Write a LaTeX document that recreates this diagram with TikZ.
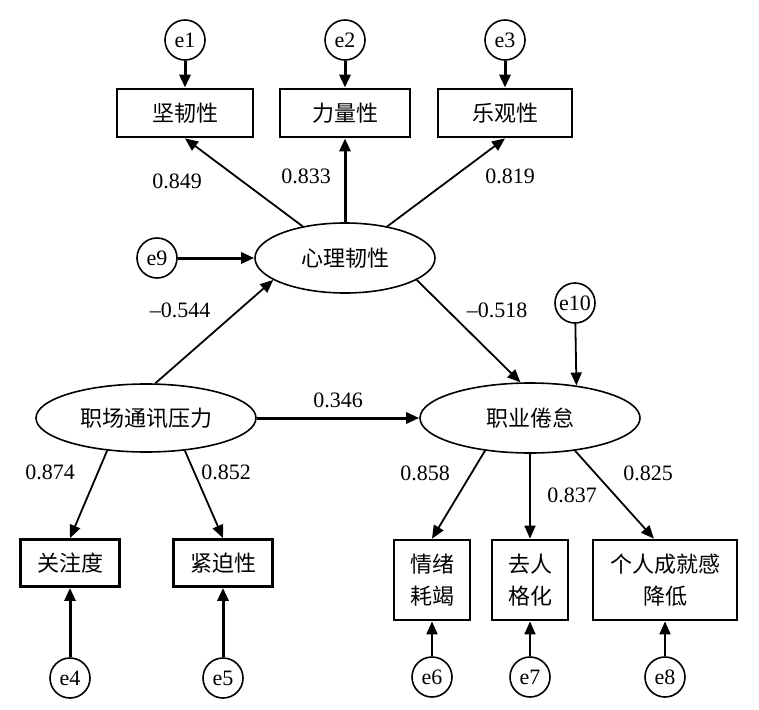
\documentclass[tikz,border=0pt]{standalone}
\usepackage{fontspec}
\setmainfont{Liberation Serif}
\newfontfamily\cjk{Noto Sans CJK SC}
\usetikzlibrary{arrows.meta,shapes.geometric}

\begin{document}
\begin{tikzpicture}[x=1pt, y=-1pt,
        font=\fontsize{22}{30}\selectfont,
        err/.style={circle, draw, line width=1.6pt, minimum size=40pt, inner sep=0pt},
        obs/.style={rectangle, draw, line width=2.8pt, minimum height=48pt, inner sep=0pt,
            align=center, font=\fontsize{22}{32}\selectfont\cjk},
        lat/.style={ellipse, draw, line width=1.6pt, inner sep=0pt, font=\fontsize{22}{30}\selectfont\cjk},
        thinarr/.style={-{Triangle[length=13pt,width=11pt]}, line width=1.8pt},
        thickarr/.style={-{Triangle[length=13pt,width=11pt]}, line width=3pt}]
        \useasboundingbox (0,0) rectangle (759,709);

        % psychological resilience part
        \node[err] (e1) at (185,40) {e1};
        \node[err] (e2) at (345,40) {e2};
        \node[err] (e3) at (505,40) {e3};
        \node[obs, minimum width=136pt] (jrx) at (185,113) {坚韧性};
        \node[obs, minimum width=130pt] (llx) at (345,113) {力量性};
        \node[obs, minimum width=134pt] (lgx) at (505,113) {乐观性};
        \node[lat, minimum width=180pt, minimum height=70pt] (xlrx) at (345,258) {心理韧性};
        \node[err] (e9) at (157,258) {e9};

        % latent variables
        \node[lat, minimum width=220pt, minimum height=68pt] (tyyl) at (146,418) {职场通讯压力};
        \node[lat, minimum width=220pt, minimum height=70pt] (zyjd) at (530,418) {职业倦怠};
        \node[err] (e10) at (575,303) {e10};

        % indicators below
        \node[obs, minimum width=99pt, minimum height=47pt] (gzd) at (70,563) {关注度};
        \node[obs, minimum width=99pt, minimum height=47pt] (jpx) at (223,563) {紧迫性};
        \node[obs, minimum width=76pt, minimum height=80pt] (qxhj) at (432,580) {情绪\\耗竭};
        \node[obs, minimum width=76pt, minimum height=80pt] (qrgh) at (530,580) {去人\\格化};
        \node[obs, minimum width=144pt, minimum height=80pt] (grcj) at (665,580) {个人成就感\\降低};
        \node[err] (e4) at (70,678) {e4};
        \node[err] (e5) at (223,678) {e5};
        \node[err] (e6) at (432,677) {e6};
        \node[err] (e7) at (530,677) {e7};
        \node[err] (e8) at (665,677) {e8};

        % paths
        \draw[thickarr] (e1) -- (jrx);
        \draw[thickarr] (e2) -- (llx);
        \draw[thickarr] (e3) -- (lgx);
        \draw[thinarr] (xlrx) -- (jrx.south);
        \draw[thickarr] (xlrx) -- (llx);
        \draw[thinarr] (xlrx) -- (lgx.south);
        \draw[thickarr] (e9) -- (xlrx);
        \draw[thinarr] (tyyl.75) -- (xlrx.197);
        \draw[thinarr] (xlrx.343) -- (zyjd.105);
        \draw[thinarr] (e10) -- (zyjd.35);
        \draw[thickarr] (tyyl) -- (zyjd);
        \draw[thinarr] (tyyl.220) -- (gzd.north);
        \draw[thinarr] (tyyl.320) -- (jpx.north);
        \draw[thickarr] (e4) -- (gzd);
        \draw[thickarr] (e5) -- (jpx);
        \draw[thinarr] (zyjd.216) -- (qxhj.north);
        \draw[thinarr] (zyjd.south) -- (qrgh);
        \draw[thinarr] (zyjd.324) -- (grcj.105);
        \draw[thinarr] (e6) -- (qxhj);
        \draw[thinarr] (e7) -- (qrgh);
        \draw[thinarr] (e8) -- (grcj);

        % coefficients
        \node (c1) at (177,181) {0.849};
        \node (c2) at (306,176) {0.833};
        \node (c3) at (510,176) {0.819};
        \node (c4) at (180,310) {–0.544};
        \node (c5) at (497,310) {–0.518};
        \node (c6) at (338,400) {0.346};
        \node (c7) at (50,472) {0.874};
        \node (c8) at (226,472) {0.852};
        \node (c9) at (425,473) {0.858};
        \node (c10) at (572,495) {0.837};
        \node (c11) at (648,473) {0.825};
\end{tikzpicture}
\end{document}
